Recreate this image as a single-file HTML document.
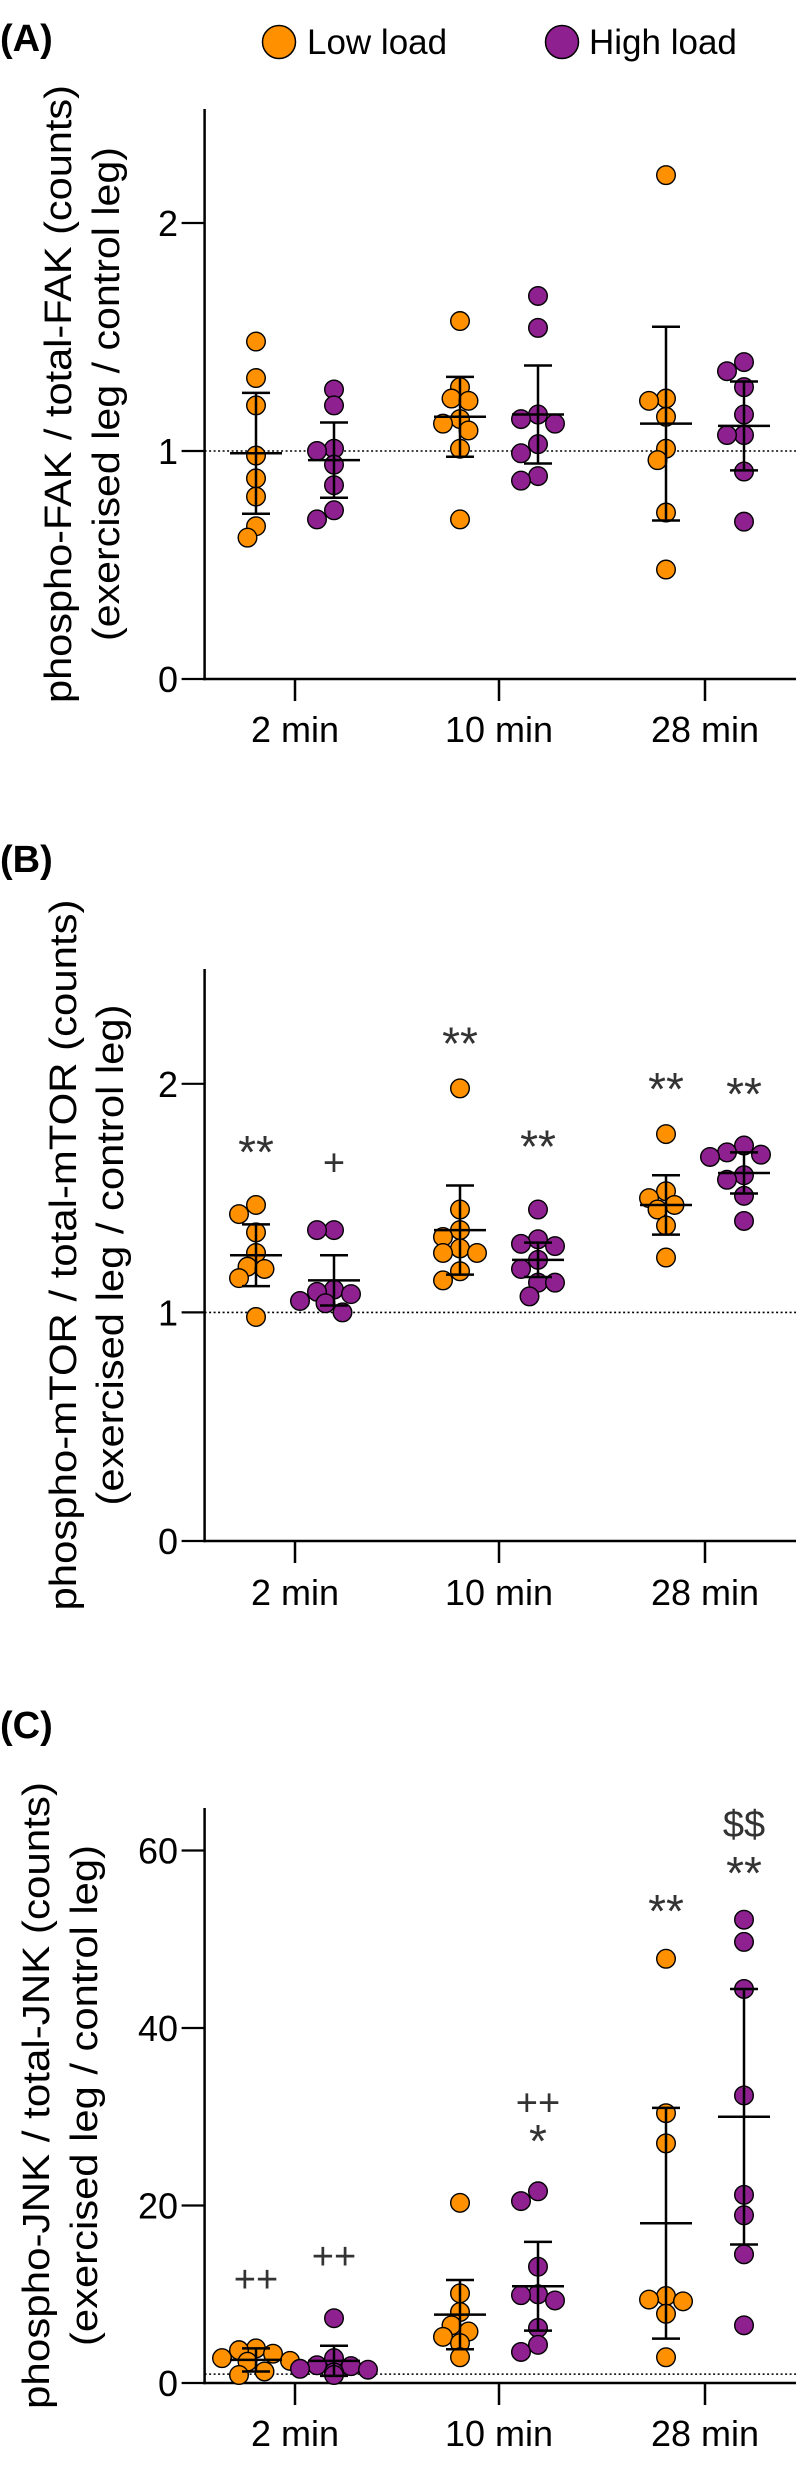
<!DOCTYPE html>
<html><head><meta charset="utf-8">
<style>
html,body{margin:0;padding:0;background:#fff;}
svg{display:block;font-family:"Liberation Sans",Arial,sans-serif;}
</style></head>
<body>
<svg id="fig" width="798" height="2482" viewBox="0 0 798 2482" xmlns="http://www.w3.org/2000/svg">
  <g>
    <circle cx="279" cy="42" r="16.5" fill="#FF9100" stroke="#000" stroke-width="1.5"/>
    <text x="307" y="54" font-size="35">Low load</text>
    <circle cx="562" cy="42" r="16.5" fill="#8E2090" stroke="#000" stroke-width="1.5"/>
    <text x="589" y="54" font-size="35">High load</text>
  </g>
</svg>
<script>
// ---- data ----
const groups = ['2 min','10 min','28 min'];
// Panel A (FAK)
const fakLow = [[1.48,1.32,1.20,0.98,0.88,0.80,0.67,0.62],[1.57,1.28,1.22,1.23,1.14,1.12,1.09,1.01,0.70],[2.21,1.23,1.22,1.15,1.01,0.96,0.73,0.48]];
const fakHigh = [[1.27,1.20,1.00,1.01,0.94,0.85,0.74,0.70],[1.68,1.54,1.16,1.14,1.12,1.03,0.99,0.89,0.87],[1.39,1.35,1.28,1.16,1.07,1.07,0.91,0.69]];
const fakLowMean = [0.99,1.15,1.12];
const fakLowErr = [0.265,0.175,0.425];
const fakHighMean = [0.96,1.16,1.11];
const fakHighErr = [0.165,0.215,0.195];
// Panel B (mTOR)
const mtorLow = [[1.47,1.43,1.35,1.26,1.20,1.19,1.15,0.98],[1.98,1.45,1.36,1.33,1.28,1.26,1.26,1.18,1.14],[1.78,1.53,1.50,1.47,1.45,1.38,1.24]];
const mtorHigh = [[1.36,1.36,1.10,1.09,1.08,1.05,1.04,1.00],[1.45,1.32,1.30,1.29,1.23,1.19,1.13,1.13,1.07],[1.73,1.70,1.69,1.68,1.60,1.58,1.51,1.40]];
const mtorLowMean = [1.25,1.36,1.47];
const mtorLowErr = [0.135,0.195,0.13];
const mtorHighMean = [1.14,1.23,1.61];
const mtorHighErr = [0.11,0.075,0.09];
// Panel C (JNK)
const jnkLow = [[3.9,3.7,3.3,2.8,2.5,2.4,1.3,0.9],[20.3,10.1,8.0,6.5,5.8,5.2,4.5,2.9],[47.8,30.4,27.0,9.8,9.4,9.2,7.8,2.9]];
const jnkHigh = [[7.3,2.8,2.0,1.9,1.6,1.5,1.2,0.9],[21.6,20.5,13.1,10.0,9.9,9.3,6.2,4.3,3.5],[52.2,49.7,44.4,32.4,21.2,18.9,14.5,6.5]];
const jnkLowMean = [2.6,7.7,18.0];
const jnkLowErr = [1.3,3.9,13.0];
const jnkHighMean = [2.5,10.9,30.0];
const jnkHighErr = [1.7,5.0,14.4];
// significance annotations: [group, series(0 low,1 high), label, y value]
const mtorMarks = [[0,0,'**',1.745],[0,1,'+',1.655],[1,0,'**',2.22],[1,1,'**',1.77],[2,0,'**',2.02],[2,1,'**',2.0]];
const jnkMarks = [[0,0,'++',11.7],[0,1,'++',14.3],[1,1,'++',31.6],[1,1,'*',28.4],[2,0,'**',54.3],[2,1,'**',58.6],[2,1,'$$',63.1]];
const fakTicks = [0,1,2];
const mtorTicks = [0,1,2];
const jnkTicks = [0,20,40,60];

// ---- drawing ----
const NS='http://www.w3.org/2000/svg';
const svg=document.getElementById('fig');
function mk(tag,attrs,parent){const e=document.createElementNS(NS,tag);for(const k in attrs)e.setAttribute(k,attrs[k]);(parent||svg).appendChild(e);return e;}

const panels=[
 {key:'a',letter:'(A)',letterY:51,y0:679,top:109,max:2.5,unit:228,ticks:fakTicks,low:fakLow,high:fakHigh,lm:fakLowMean,le:fakLowErr,hm:fakHighMean,he:fakHighErr,marks:[],
  t1:'phospho-FAK / total-FAK (counts)',t1len:618,t1x:71,t2len:494,t2x:119,labY:742},
 {key:'b',letter:'(B)',letterY:872,y0:1541,top:969,max:2.5,unit:228.6,ticks:mtorTicks,low:mtorLow,high:mtorHigh,lm:mtorLowMean,le:mtorLowErr,hm:mtorHighMean,he:mtorHighErr,marks:mtorMarks,
  t1:'phospho-mTOR / total-mTOR (counts)',t1len:711,t1x:76,t2len:501,t2x:123,labY:1605},
 {key:'c',letter:'(C)',letterY:1738,y0:2383,top:1808,max:65,unit:8.875,ticks:jnkTicks,low:jnkLow,high:jnkHigh,lm:jnkLowMean,le:jnkLowErr,hm:jnkHighMean,he:jnkHighErr,marks:jnkMarks,
  t1:'phospho-JNK / total-JNK (counts)',t1len:627,t1x:49,t2len:501,t2x:97,labY:2446}
];
const AX=204.6, XR=796, centers=[295,499,705], OFF=39, R=9.3, STEP=8.5, MIND=14;
const colors=['#FF9100','#8E2090'];

function swarm(vals,cx,yf){
  const order=vals.map((v,i)=>i).sort((a,b)=>vals[b]-vals[a]);
  const placed=[];const out=[];
  const cands=[0,-1,1,-2,2,-3,3,-4,4];
  order.forEach(i=>{
    const y=yf(vals[i]);
    let done=false;
    for(const c of cands){
      const x=cx+c*STEP;
      if(placed.every(p=>Math.hypot(p[0]-x,p[1]-y)>=MIND)){placed.push([x,y]);out.push([x,y]);done=true;break;}
    }
    if(!done){placed.push([cx,y]);out.push([cx,y]);}
  });
  return out;
}

panels.forEach(p=>{
  const yf=v=>p.y0-v*p.unit;
  const g=mk('g',{});
  
  
  const lt=mk('text',{x:0,y:p.letterY,'font-size':38,'font-weight':'bold'},g);lt.textContent=p.letter;
  
  
  const cy=(p.top+p.y0)/2;
  const t1=mk('text',{x:0,y:0,'font-size':38,'text-anchor':'middle',textLength:p.t1len,lengthAdjust:'spacingAndGlyphs',transform:`translate(${p.t1x},${cy}) rotate(-90)`},g);t1.textContent=p.t1;
  
  
  const t2=mk('text',{x:0,y:0,'font-size':38,'text-anchor':'middle',textLength:p.t2len,lengthAdjust:'spacingAndGlyphs',transform:`translate(${p.t2x},${cy}) rotate(-90)`},g);t2.textContent='(exercised leg / control leg)';
  
  
  const ref=mk('line',{x1:AX,x2:XR,y1:yf(1),y2:yf(1),stroke:'#000','stroke-width':1.6,'stroke-dasharray':'2,2.5'},g);
  
  
  const ya=mk('line',{x1:AX,x2:AX,y1:p.top,y2:p.y0+1.2,stroke:'#000','stroke-width':2.5},g);
  
  
  const xa=mk('line',{x1:AX-1.2,x2:XR,y1:p.y0,y2:p.y0,stroke:'#000','stroke-width':2.5},g);
  
  
  p.ticks.forEach(t=>{
    const tk=mk('line',{x1:181.6,x2:AX,y1:yf(t),y2:yf(t),stroke:'#000','stroke-width':2.2},g);
    
    
    const tl=mk('text',{x:178,y:yf(t)+13,'font-size':36,'text-anchor':'end'},g);tl.textContent=t;
    
    
  });
  groups.forEach((gname,gi)=>{
    const cx=centers[gi];
    const tk=mk('line',{x1:cx,x2:cx,y1:p.y0,y2:p.y0+22,stroke:'#000','stroke-width':2.5},g);
    
    
    const tl=mk('text',{x:cx,y:p.labY,'font-size':36,'text-anchor':'middle'},g);tl.textContent=gname;
    
    
    [[p.low,p.lm,p.le],[p.high,p.hm,p.he]].forEach((s,si)=>{
      const sx=cx+(si?OFF:-OFF);
      const pts=swarm(s[0][gi],sx,yf);
      pts.forEach(pt=>{
        const c=mk('circle',{cx:pt[0],cy:pt[1],r:R,fill:colors[si],stroke:'#000','stroke-width':1.4},g);
        
        
      });
      const m=s[1][gi],e=s[2][gi];
      const eg=mk('g',{stroke:'#000','stroke-width':2.5},g);
      
      
      mk('line',{x1:sx,x2:sx,y1:yf(m+e),y2:yf(m-e)},eg);
      mk('line',{x1:sx-14,x2:sx+14,y1:yf(m+e),y2:yf(m+e)},eg);
      mk('line',{x1:sx-14,x2:sx+14,y1:yf(m-e),y2:yf(m-e)},eg);
      mk('line',{x1:sx-26,x2:sx+26,y1:yf(m),y2:yf(m)},eg);
    });
  });
  p.marks.forEach(mv=>{
    const sx=centers[mv[0]]+(mv[1]?OFF:-OFF);
    const star=mv[2].indexOf('*')>=0;
    const fs=star?46:38;
    const off=star?26:(mv[2]==='$$'?14:13);
    const t=mk('text',{x:sx,y:yf(mv[3])+off,'font-size':fs,'text-anchor':'middle',fill:'#333'},g);
    t.textContent=mv[2];
    
    
  });
});
</script>
</body></html>
